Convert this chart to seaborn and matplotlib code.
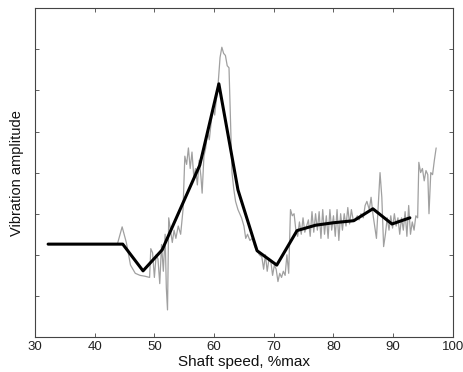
import numpy as np
import pandas as pd
import matplotlib
matplotlib.use("Agg")
import matplotlib.pyplot as plt
import seaborn as sns

# raw vibration trace (gray)
raw_speed = [43.8, 44.6, 45.3, 46.0, 46.8, 47.6, 48.4, 49.2, 49.4, 49.7,
             50.0, 50.3, 50.6, 50.9, 51.2, 51.5, 51.8, 52.0, 52.2, 52.4,
             52.7, 53.0, 53.3, 53.6, 54.0, 54.4, 54.8, 55.1, 55.4, 55.7,
             56.0, 56.3, 56.6, 56.9, 57.2, 57.5, 57.8, 58.0, 58.3, 58.6,
             58.9, 59.2, 59.5, 59.8, 60.1, 60.4, 60.7, 61.0, 61.3, 61.6,
             61.9, 62.2, 62.5, 62.8, 63.0, 63.3, 63.6, 64.0, 64.3, 64.6,
             65.0, 65.3, 65.6, 66.0, 66.4, 66.8, 67.2, 67.6, 68.0, 68.3,
             68.6, 68.9, 69.2, 69.5, 69.8, 70.1, 70.4, 70.7, 71.0, 71.3,
             71.6, 71.9, 72.2, 72.5, 72.8, 73.1, 73.4, 73.7, 74.0, 74.3,
             74.6, 74.9, 75.2, 75.5, 75.8, 76.1, 76.4, 76.7, 77.0, 77.3,
             77.6, 77.9, 78.2, 78.5, 78.8, 79.1, 79.4, 79.7, 80.0, 80.3,
             80.6, 80.9, 81.2, 81.5, 81.8, 82.1, 82.4, 82.7, 83.0, 83.3,
             83.6, 84.0, 84.3, 84.6, 85.0, 85.3, 85.6, 86.0, 86.3, 86.6,
             86.9, 87.2, 87.5, 87.8, 88.1, 88.4, 88.7, 89.0, 89.3, 89.6,
             89.9, 90.2, 90.5, 90.8, 91.1, 91.4, 91.7, 92.0, 92.3, 92.6,
             92.9, 93.2, 93.5, 93.8, 94.1, 94.3, 94.6, 94.9, 95.2, 95.5,
             95.8, 96.0, 96.3, 96.6, 96.9, 97.2]
raw_amp = [2.26, 2.68, 2.30, 1.75, 1.55, 1.50, 1.48, 1.45, 2.15, 2.05,
           1.45, 2.00, 1.90, 1.30, 2.25, 1.60, 2.50, 1.20, 0.66, 2.90,
           2.60, 2.30, 2.60, 2.40, 2.70, 2.50, 3.10, 4.40, 4.20, 4.60,
           4.10, 4.50, 3.90, 4.10, 3.70, 4.30, 3.90, 3.50, 4.40, 4.60,
           5.00, 4.80, 5.20, 5.60, 5.40, 5.80, 6.20, 6.80, 7.05, 6.90,
           6.85, 6.60, 6.55, 5.00, 4.00, 3.60, 3.30, 3.10, 3.00, 2.90,
           2.70, 2.40, 2.50, 2.35, 2.40, 2.20, 2.10, 2.00, 1.95, 1.65,
           2.00, 1.60, 1.90, 1.85, 1.50, 1.75, 1.65, 1.35, 1.55, 1.45,
           1.60, 1.50, 2.00, 1.55, 3.10, 2.95, 3.00, 2.60, 2.45, 2.80,
           2.50, 2.90, 2.55, 2.70, 2.85, 2.45, 3.05, 2.55, 3.00, 2.60,
           3.05, 2.40, 3.10, 2.50, 2.95, 2.40, 3.10, 2.60, 2.95, 2.45,
           3.10, 2.35, 3.00, 2.60, 3.00, 2.70, 3.15, 2.75, 3.10, 2.85,
           2.85, 2.95, 2.85, 3.00, 2.90, 3.20, 3.30, 3.10, 3.40, 3.00,
           2.70, 2.40, 3.20, 4.00, 3.40, 2.20, 2.50, 2.90, 2.60, 2.95,
           2.65, 3.00, 2.70, 2.90, 2.50, 2.90, 2.60, 3.05, 2.45, 3.20,
           2.50, 2.80, 2.60, 2.95, 2.90, 4.25, 4.00, 4.10, 3.80, 4.05,
           3.95, 3.00, 4.00, 3.95, 4.30, 4.60]

# smoothed trend (black)
trend_speed = [32.2, 44.7, 48.1, 51.3, 57.6, 60.8, 64.0, 67.2, 70.5,
               73.9, 77.0, 80.0, 83.4, 86.6, 89.8, 92.8]
trend_amp = [2.26, 2.26, 1.61, 2.12, 4.18, 6.16, 3.58, 2.10, 1.75,
             2.59, 2.72, 2.78, 2.83, 3.12, 2.75, 2.90]

sns.set_style("ticks")
plt.rcParams["font.family"] = ["Liberation Sans", "DejaVu Sans"]

fig = plt.figure(figsize=(4.64, 3.72), dpi=100)
ax = fig.add_axes([0.0754, 0.094, 0.9006, 0.884])

raw = pd.DataFrame({"speed": raw_speed, "amp": raw_amp})
trend = pd.DataFrame({"speed": trend_speed, "amp": trend_amp})

sns.lineplot(data=raw, x="speed", y="amp", ax=ax, color="#a0a0a0",
             linewidth=0.9, sort=False, estimator=None)
sns.lineplot(data=trend, x="speed", y="amp", ax=ax, color="black",
             linewidth=2.2, sort=False, estimator=None)

ax.set_xlim(30, 100)
ax.set_ylim(0, 8)
ax.set_xticks(np.arange(30, 101, 10))
ax.set_yticks(np.arange(1, 8))
ax.set_yticklabels([])
ax.tick_params(direction="in", length=3, width=0.6, color="#444444",
               top=True, right=True, labelsize=9.5, pad=3, labelcolor="#222222")
for s in ax.spines.values():
    s.set_linewidth(0.8)
    s.set_color("#444444")

ax.set_xlabel("Shaft speed, %max", fontsize=11, labelpad=1, color="#111111")
ax.set_ylabel("Vibration amplitude", fontsize=10.5, labelpad=5, color="#111111")

fig.savefig("out.png", dpi=100)
